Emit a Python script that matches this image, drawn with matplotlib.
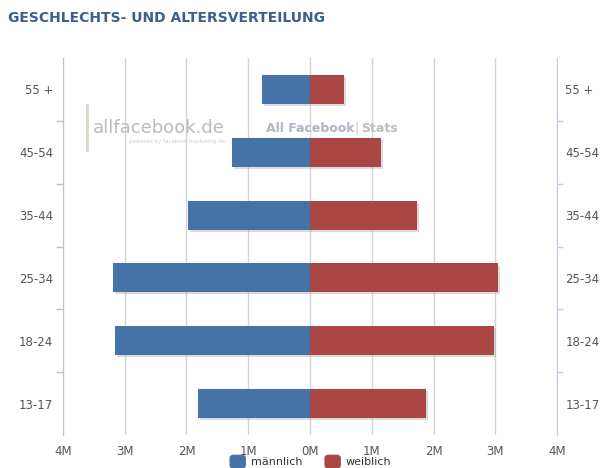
import matplotlib.pyplot as plt
import matplotlib.patheffects as pe
from matplotlib.patches import FancyBboxPatch
import numpy as np

# Facebook-Nutzer nach Alter und Geschlecht (Mio.)
altersgruppen = ["55 +", "45-54", "35-44", "25-34", "18-24", "13-17"]
maennlich = [0.78, 1.26, 1.98, 3.19, 3.16, 1.81]
weiblich = [0.55, 1.15, 1.73, 3.04, 2.98, 1.88]
x_ticks = [-4, -3, -2, -1, 0, 1, 2, 3, 4]
x_labels = ["4M", "3M", "2M", "1M", "0M", "1M", "2M", "3M", "4M"]

blau = "#4572A7"
rot = "#AA4643"
label_grau = "#555555"

fig = plt.figure(figsize=(6.01, 4.68), dpi=100)
ax = fig.add_axes([0.1048, 0.0705, 0.822, 0.8055])

y = np.arange(len(altersgruppen))
schatten = [pe.SimplePatchShadow(offset=(1.5, -1.5), shadow_rgbFace="#999999", alpha=0.35), pe.Normal()]
ax.barh(y, [-v for v in maennlich], height=0.46, color=blau, zorder=3, path_effects=schatten)
ax.barh(y, weiblich, height=0.46, color=rot, zorder=3, path_effects=schatten)

ax.set_xlim(-4, 4)
ax.set_ylim(len(altersgruppen) - 0.5, -0.5)
ax.set_xticks(x_ticks)
ax.set_xticklabels(x_labels)
ax.tick_params(axis="x", length=0, pad=7, labelsize=8.5, labelcolor=label_grau)
ax.grid(axis="x", color="#D5D5D5", lw=1, zorder=0)
ax.set_axisbelow(True)

ax.set_yticks(y)
ax.set_yticklabels(altersgruppen)
ax.set_yticks(np.arange(len(altersgruppen) - 1) + 0.5, minor=True)
ax.tick_params(axis="y", which="major", length=0, pad=7, labelsize=8.5, labelcolor=label_grau)
ax.tick_params(axis="y", which="minor", length=5, color="#C0C0C0", width=1)

for s in ["top", "bottom", "right"]:
    ax.spines[s].set_visible(False)
ax.spines["left"].set_color("#C0C0C0")

ax2 = ax.twinx()
ax2.set_ylim(ax.get_ylim())
ax2.set_yticks(y)
ax2.set_yticklabels(altersgruppen)
ax2.set_yticks(np.arange(len(altersgruppen) - 1) + 0.5, minor=True)
ax2.tick_params(axis="y", which="major", length=0, pad=6, labelsize=8.5, labelcolor=label_grau)
ax2.tick_params(axis="y", which="minor", length=4, color="#C0D0E0", width=1)
for s in ["top", "bottom", "left"]:
    ax2.spines[s].set_visible(False)
ax2.spines["right"].set_color("#C0D0E0")

# Wasserzeichen
fig.add_artist(plt.Line2D([0.145, 0.145], [0.68, 0.775], color="#D8D8C8", lw=2, transform=fig.transFigure))
fig.text(0.155, 0.726, "allfacebook.de", fontsize=13, color="#BBBBBB", ha="left", va="center")
fig.text(0.215, 0.697, "powered by facebookmarketing.de", fontsize=4, color="#CCCCCC", ha="left", va="center")
fig.text(0.4426, 0.726, "All Facebook", fontsize=9, color="#AFB5C3", fontweight="bold", ha="left", va="center")
fig.text(0.589, 0.726, "|", fontsize=9, color="#C8C8C8", ha="left", va="center")
fig.text(0.601, 0.726, "Stats", fontsize=9, color="#BDBDBD", fontweight="bold", ha="left", va="center")

fig.text(0.013, 0.962, "GESCHLECHTS- UND ALTERSVERTEILUNG", fontsize=10, fontweight="bold",
         color="#3E5E8E", ha="left", va="center")

# Legende
for xp, farbe, text in [(0.383, blau, "männlich"), (0.541, rot, "weiblich")]:
    fig.patches.append(FancyBboxPatch((xp, 0.0), 0.025, 0.027, boxstyle="round,pad=0,rounding_size=0.006",
                                      transform=fig.transFigure, color=farbe, figure=fig))
    fig.text(xp + 0.034, 0.013, text, fontsize=8, color="#333333", ha="left", va="center")

fig.savefig("out.png", dpi=100, facecolor="white")
